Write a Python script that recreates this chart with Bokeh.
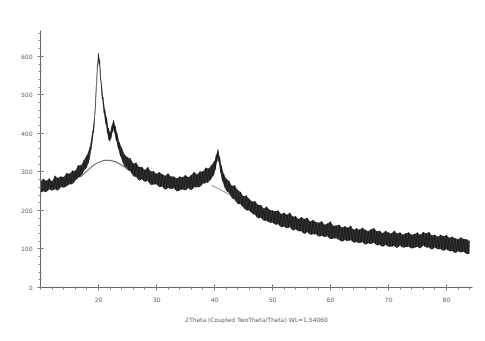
from bokeh.plotting import figure
from bokeh.models import FixedTicker, Title
from bokeh.embed import file_html
from bokeh.resources import INLINE

# 2-theta positions (deg)
two_theta = [10, 10.5, 11, 11.5, 12, 12.5, 13, 13.5, 14, 14.5, 15, 15.5, 16, 16.5, 17, 17.5,
             18, 18.5, 19, 19.3, 19.6, 19.8, 20.0, 20.2, 20.5, 20.8, 21.1, 21.4, 21.7, 22.0,
             22.3, 22.6, 22.9, 23.2, 23.6, 24.0, 24.5,
             25, 25.5, 26, 26.5, 27, 27.5, 28, 28.5, 29, 29.5, 30, 30.5, 31, 31.5, 32, 32.5,
             33, 33.5, 34, 34.5, 35, 35.5, 36, 36.5, 37, 37.5, 38, 38.5, 39, 39.5,
             40, 40.3, 40.6, 40.9, 41.2, 41.6,
             42, 42.5, 43, 43.5, 44, 44.5, 45, 45.5, 46, 46.5, 47, 47.5, 48, 48.5, 49, 49.5, 50,
             50.5, 51, 51.5, 52, 52.5, 53, 53.5, 54, 54.5, 55, 55.5, 56, 56.5, 57, 57.5, 58,
             58.5, 59, 59.5, 60, 60.5, 61, 61.5, 62, 62.5, 63, 63.5, 64, 64.5, 65, 65.5, 66,
             66.5, 67, 67.5, 68, 68.5, 69, 69.5, 70, 70.5, 71, 71.5, 72, 72.5, 73, 73.5, 74,
             74.5, 75, 75.5, 76, 76.5, 77, 77.5, 78, 78.5, 79, 79.5, 80, 80.5, 81, 81.5, 82,
             82.5, 83, 83.5, 84]
# mean intensity (counts)
counts = [262, 262, 265, 265, 266, 268, 270, 272, 275, 277, 280, 285, 290, 296, 303, 315,
          325, 350, 395, 430, 510, 570, 600, 580, 520, 480, 450, 425, 400, 390,
          405, 425, 405, 385, 365, 345, 330,
          322, 315, 308, 302, 298, 295, 292, 289, 286, 283, 281, 279, 277, 275, 273, 272,
          270, 269, 268, 269, 270, 271, 273, 275, 277, 280, 283, 287, 292, 298,
          310, 330, 348, 325, 300, 280,
          268, 258, 250, 243, 237, 230, 224, 219, 213, 208, 203, 199, 195, 191, 188, 185, 182,
          180, 178, 176, 174, 172, 170, 168, 166, 164, 162, 160, 158, 156, 155, 153, 152,
          150, 149, 147, 146, 144, 143, 142, 141, 139, 138, 137, 136, 135, 134, 133, 132,
          131, 131, 130, 129, 128, 127, 126, 125, 124, 124, 123, 123, 122, 122, 121, 121,
          121, 122, 123, 124, 123, 121, 119, 118, 117, 116, 115, 114, 113, 112, 111, 110,
          109, 108, 106, 105]
# read-off noise excursions above / below the mean (counts)
noise_up = [14, 20, 12, 18, 10, 22, 14, 16, 12, 20, 15, 18, 13, 21, 14, 16,
            18, 14, 12, 12, 10, 8, 8, 10, 12, 14, 12, 16, 14, 12,
            15, 10, 14, 16, 12, 18, 15,
            16, 20, 14, 22, 15, 18, 13, 24, 16, 19, 14, 21, 17, 15, 23, 16,
            18, 14, 20, 17, 22, 15, 19, 25, 16, 21, 18, 24, 17, 20,
            18, 14, 10, 14, 16, 15,
            15, 19, 14, 22, 16, 18, 13, 20, 17, 15, 21, 16, 19, 14, 22, 17, 18,
            18, 22, 15, 20, 17, 24, 16, 19, 14, 21, 18, 23, 15, 20, 17, 16,
            22, 14, 19, 25, 16, 18, 21, 15, 20, 17, 23, 14, 19, 16, 22, 18,
            15, 20, 24, 17, 19, 14, 21, 18, 16, 23, 17, 20, 15, 19, 22, 16,
            18, 21, 14, 20, 17, 23, 16, 19, 15, 21, 18, 22, 16, 20, 17, 15,
            21, 18, 19, 16]
noise_dn = [16, 12, 18, 10, 15, 13, 19, 11, 16, 14, 12, 17, 13, 11, 15, 12,
            14, 16, 12, 10, 10, 8, 8, 10, 12, 10, 14, 12, 15, 12,
            10, 12, 14, 12, 16, 13, 17,
            17, 13, 19, 15, 21, 14, 18, 12, 20, 16, 13, 19, 15, 22, 14, 17,
            12, 20, 16, 14, 18, 13, 21, 15, 17, 19, 14, 16, 18, 15,
            15, 14, 10, 12, 16, 14,
            16, 13, 18, 15, 20, 14, 17, 19, 13, 16, 15, 20, 14, 18, 15, 17, 13,
            17, 14, 20, 16, 19, 13, 21, 15, 18, 16, 22, 14, 19, 17, 15, 20,
            16, 18, 14, 21, 17, 15, 19, 22, 16, 18, 14, 20, 17, 19, 15, 21,
            16, 18, 14, 20, 17, 22, 15, 19, 18, 16, 21, 14, 19, 17, 15, 20,
            18, 16, 22, 15, 19, 17, 21, 14, 18, 16, 20, 15, 19, 17, 22, 16,
            18, 15, 20, 17]

# amorphous hump and background under the 40.6 deg peak
hump_x = [17, 18, 19, 20, 21, 22, 23, 24, 25]
hump_y = [288, 302, 316, 325, 330, 330, 326, 318, 308]
bg_x = [39.5, 40.5, 41.5, 42.5]
bg_y = [265, 258, 250, 242]

x_ticks = [20, 30, 40, 50, 60, 70, 80]
y_ticks = [0, 100, 200, 300, 400, 500, 600]
x_title = "2Theta (Coupled TwoTheta/Theta) WL=1.54060"

upper = [c + u for c, u in zip(counts, noise_up)]
lower = [c - d for c, d in zip(counts, noise_dn)]

# zig-zag trace alternating between the read-off excursions
zx, zy = [], []
for i in range(len(two_theta)):
    zx.append(two_theta[i]); zy.append(upper[i])
    if i + 1 < len(two_theta):
        zx.append((two_theta[i] + two_theta[i + 1]) / 2)
        zy.append((lower[i] + lower[i + 1]) / 2)

p = figure(width=485, height=341, output_backend="svg", toolbar_location=None,
           x_range=(10, 84.5), y_range=(0, 667),
           min_border_left=40, min_border_right=13, min_border_top=30, min_border_bottom=54)
p.outline_line_color = None
p.grid.grid_line_color = None

p.varea(x=two_theta, y1=lower, y2=upper, fill_color="#141414", fill_alpha=0.85)
p.line(zx, zy, line_color="#000000", line_width=0.8, line_alpha=0.55)
p.line(hump_x, hump_y, line_color="#777777", line_width=1.2)
p.line(bg_x, bg_y, line_color="#888888", line_width=1.0)

for ax in (p.xaxis[0], p.yaxis[0]):
    ax.axis_line_color = "#666666"
    ax.major_tick_line_color = "#666666"
    ax.minor_tick_line_color = "#888888"
    ax.major_tick_in = 3
    ax.major_tick_out = 3
    ax.minor_tick_in = 1
    ax.minor_tick_out = 2
    ax.major_label_text_font_size = "6px"
    ax.major_label_text_color = "#666666"
    ax.major_label_text_font = "DejaVu Sans"

p.xaxis.ticker = FixedTicker(ticks=x_ticks, minor_ticks=list(range(10, 86, 2)))
p.yaxis.ticker = FixedTicker(ticks=y_ticks, minor_ticks=list(range(0, 661, 20)))
p.xaxis.major_label_standoff = 6
p.yaxis.major_label_standoff = 5

p.add_layout(Title(text=x_title, align="center", offset=44, text_font_size="6px",
                   text_color="#666666", text_font="DejaVu Sans", text_font_style="normal",
                   standoff=18), "below")

open("out.html", "w").write(file_html(p, INLINE))
